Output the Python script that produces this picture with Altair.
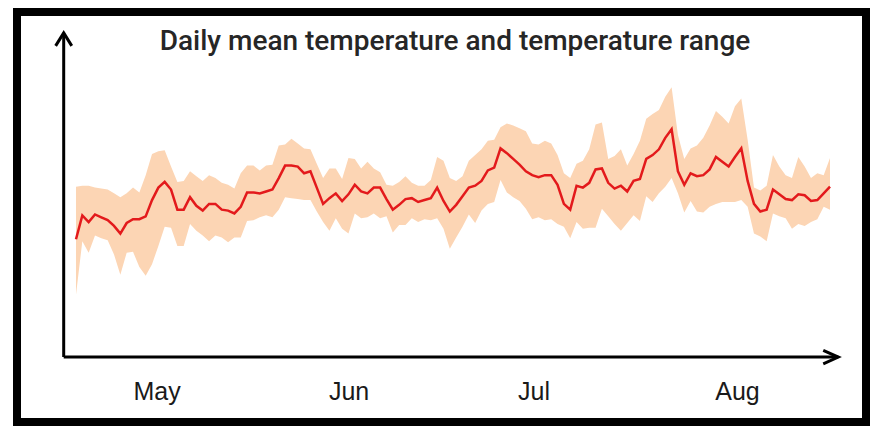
import altair as alt
import pandas as pd

# ---- data (one value per day) ----
chart_title = "Daily mean temperature and temperature range"
months = ["May", "Jun", "Jul", "Aug"]
month_pos = [12.8, 43.1, 72.3, 104.4]          # day index under each month label

mean_t = [12.3, 14.8, 14.1, 14.9, 14.6, 14.3, 13.7, 12.9, 14.0, 14.4,
          14.4, 14.7, 16.4, 17.7, 18.3, 17.5, 15.4, 15.4, 16.7, 15.8,
          15.3, 16.0, 16.0, 15.4, 15.3, 15.0, 15.7, 17.2, 17.2, 17.1,
          17.3, 17.5, 18.7, 20.0, 20.0, 19.9, 19.2, 19.4, 17.7, 16.0,
          16.6, 17.1, 16.3, 17.0, 18.0, 17.3, 17.1, 17.7, 17.7, 16.5,
          15.4, 15.9, 16.5, 16.6, 16.2, 16.4, 16.6, 17.7, 16.3, 15.2,
          15.9, 16.8, 17.7, 17.9, 18.4, 19.5, 19.8, 21.8, 21.3, 20.7,
          20.1, 19.4, 19.0, 18.8, 19.0, 19.0, 18.0, 16.0, 15.4, 17.9,
          17.7, 18.2, 19.6, 19.7, 18.2, 17.6, 17.9, 17.3, 18.4, 18.6,
          20.7, 21.1, 21.7, 22.9, 23.8, 19.4, 18.0, 19.2, 18.9, 19.0,
          19.6, 20.9, 20.4, 19.9, 20.9, 21.8, 18.4, 16.0, 15.2, 15.4,
          17.5, 17.0, 16.5, 16.4, 17.0, 16.9, 16.3, 16.4, 17.1, 17.8]

max_t = [17.8, 17.9, 17.9, 17.7, 17.6, 17.5, 17.1, 16.7, 17.1, 17.7,
         17.2, 19.0, 21.2, 21.5, 21.6, 19.9, 18.3, 18.4, 19.4, 18.9,
         18.4, 19.0, 18.7, 18.2, 18.0, 17.6, 19.2, 20.0, 20.0, 19.5,
         20.0, 20.1, 22.1, 22.2, 22.8, 22.3, 21.8, 21.7, 20.2, 18.7,
         19.7, 19.7, 18.6, 20.8, 20.7, 19.7, 20.4, 19.7, 19.3, 18.0,
         17.9, 18.3, 18.9, 18.2, 17.9, 17.9, 18.5, 20.9, 20.5, 18.7,
         18.4, 18.9, 20.5, 21.1, 21.7, 22.6, 22.7, 24.0, 24.4, 24.2,
         23.9, 23.6, 22.3, 22.2, 22.6, 22.3, 21.1, 19.2, 18.7, 20.2,
         20.5, 21.7, 24.3, 24.5, 20.7, 21.0, 21.7, 20.0, 21.2, 22.6,
         24.9, 25.4, 25.8, 27.2, 28.2, 23.2, 20.7, 21.8, 22.1, 22.9,
         24.2, 25.7, 25.1, 24.4, 26.2, 27.0, 22.7, 17.7, 17.4, 17.9,
         21.1, 19.9, 19.0, 18.7, 20.9, 19.9, 18.7, 19.2, 19.0, 20.8]

min_t = [6.5, 12.1, 10.9, 12.7, 12.4, 12.2, 10.7, 8.6, 10.9, 11.0,
         9.4, 8.5, 9.7, 11.6, 13.6, 13.5, 11.6, 11.6, 13.9, 13.2,
         12.7, 12.1, 12.7, 12.5, 12.0, 12.5, 12.5, 14.2, 14.3, 14.6,
         14.8, 14.6, 15.4, 16.7, 16.6, 16.5, 16.4, 16.4, 15.2, 14.1,
         13.2, 14.5, 13.4, 12.9, 15.0, 14.5, 14.6, 15.0, 14.5, 14.7,
         13.0, 13.8, 13.8, 14.5, 14.1, 14.4, 14.3, 14.5, 13.4, 11.3,
         12.5, 13.6, 14.9, 14.0, 15.3, 16.0, 16.2, 18.5, 17.2, 16.7,
         16.3, 15.5, 14.4, 14.6, 14.3, 14.4, 13.9, 13.6, 12.4, 14.1,
         13.4, 13.5, 13.5, 15.5, 14.7, 13.9, 13.2, 14.0, 14.8, 14.2,
         16.8, 16.2, 17.1, 17.8, 18.7, 17.1, 15.1, 16.3, 15.2, 15.1,
         15.7, 16.0, 16.2, 16.2, 16.2, 16.4, 15.7, 12.9, 12.6, 12.1,
         15.0, 14.7, 14.5, 13.4, 13.9, 13.7, 14.1, 14.4, 15.7, 15.4]

days = list(range(len(mean_t)))

df = pd.DataFrame({"day": days, "mean": mean_t, "tmin": min_t, "tmax": max_t})
labels_df = pd.DataFrame({"day": month_pos, "label": months})
title_df = pd.DataFrame({"text": [chart_title]})
one = pd.DataFrame({"k": [0]})

# ---- layout ----
W, H = 849, 410
xs = alt.Scale(domain=[-9.31, 124.68], nice=False, zero=False)
ys = alt.Scale(domain=[-6.79, 36.05], nice=False, zero=False)
AX0, AX_TIP, AY_TIP = -1.94, 120.3, 33.87

band = alt.Chart(df).mark_area(color="#FCD5B4", opacity=1).encode(
    x=alt.X("day:Q", scale=xs, axis=None),
    y=alt.Y("tmin:Q", scale=ys, axis=None),
    y2="tmax:Q",
)

line = alt.Chart(df).mark_line(color="#E31A1C", strokeWidth=2.5).encode(
    x=alt.X("day:Q", scale=xs, axis=None),
    y=alt.Y("mean:Q", scale=ys, axis=None),
)

x_axis = alt.Chart(one).mark_rule(color="black", strokeWidth=3).encode(
    x=alt.XDatum(AX0, type="quantitative", scale=xs, axis=None),
    x2=alt.X2Datum(AX_TIP),
    y=alt.YDatum(0, type="quantitative", scale=ys, axis=None),
)

y_axis = alt.Chart(one).mark_rule(color="black", strokeWidth=3).encode(
    x=alt.XDatum(AX0, type="quantitative", scale=xs, axis=None),
    y=alt.YDatum(0, type="quantitative", scale=ys, axis=None),
    y2=alt.Y2Datum(AY_TIP),
)

arrow_x = alt.Chart(one).mark_point(
    shape="M-1,-0.45L0,0L-1,0.45", size=900, filled=False,
    color="black", strokeWidth=3, opacity=1,
).encode(
    x=alt.XDatum(AX_TIP, type="quantitative", scale=xs, axis=None),
    y=alt.YDatum(0, type="quantitative", scale=ys, axis=None),
)

arrow_y = alt.Chart(one).mark_point(
    shape="M-0.62,1L0,0L0.62,1", size=676, filled=False,
    color="black", strokeWidth=3, opacity=1,
).encode(
    x=alt.XDatum(AX0, type="quantitative", scale=xs, axis=None),
    y=alt.YDatum(AY_TIP, type="quantitative", scale=ys, axis=None),
)

month_text = alt.Chart(labels_df).mark_text(
    font="Liberation Sans, Arial, sans-serif", fontSize=25, color="#1a1a1a",
    baseline="alphabetic", align="center",
).encode(
    x=alt.X("day:Q", scale=xs, axis=None),
    y=alt.YDatum(-4.5, type="quantitative", scale=ys, axis=None),
    text="label:N",
)

title_text = alt.Chart(title_df).mark_text(
    font="Roboto, Liberation Sans, sans-serif", fontSize=28, fontWeight=500,
    color="#262626", baseline="alphabetic", align="center",
).encode(
    x=alt.value(438),
    y=alt.value(38),
    text="text:N",
)

chart = alt.layer(band, line, x_axis, y_axis, arrow_x, arrow_y, month_text, title_text).properties(
    width=W,
    height=H,
    padding={"left": 9, "top": 4, "right": 4, "bottom": 4},
    autosize=alt.AutoSizeParams(type="none"),
).configure_view(stroke="black", strokeWidth=8)

chart.save("out.html", embed_options={"renderer": "svg", "actions": False})
